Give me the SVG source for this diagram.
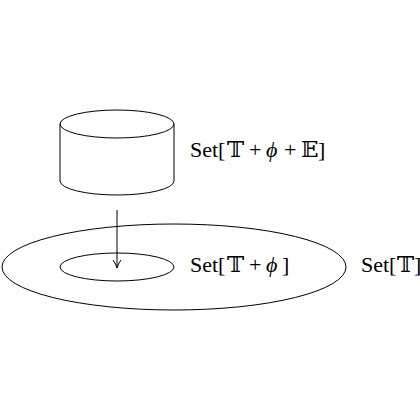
<svg xmlns="http://www.w3.org/2000/svg" width="420" height="420" viewBox="0 0 420 420">
<style>
.s{fill:none;stroke:#000;stroke-width:1}
.t{font-family:"Liberation Serif","DejaVu Serif",serif;font-size:22px;fill:#000}
.i{font-style:italic}
.d{font-size:23px}
</style>
<defs>
<marker id="ah" viewBox="0 0 10 10" refX="9" refY="5" markerWidth="10" markerHeight="10" markerUnits="userSpaceOnUse" orient="auto">
<path d="M1,1 Q5,4 9,5 Q5,6 1,9" fill="none" stroke="#000" stroke-width="1"/>
</marker>
</defs>
<rect width="420" height="420" fill="#fff"/>
<g id="outer">
<ellipse class="s" cx="174" cy="267" rx="172" ry="43"/>
<text class="t" y="272"><tspan x="361">Set[</tspan><tspan x="397" class="d">𝕋</tspan><tspan x="414">]</tspan></text>
</g>
<g id="inner">
<ellipse class="s" cx="117" cy="267" rx="57" ry="14"/>
<text class="t" y="272"><tspan x="190">Set[</tspan><tspan x="227" class="d">𝕋</tspan><tspan x="249">+</tspan><tspan x="266" class="i">ϕ</tspan><tspan x="282">]</tspan></text>
</g>
<g id="cylinder">
<ellipse class="s" cx="117" cy="124" rx="57" ry="14"/>
<path class="s" d="M60,124 V181 A57,14 0 0 0 174,181 V124"/>
<text class="t" y="157"><tspan x="190">Set[</tspan><tspan x="227" class="d">𝕋</tspan><tspan x="249">+</tspan><tspan x="266" class="i">ϕ</tspan><tspan x="284">+</tspan><tspan x="301" class="d">𝔼</tspan><tspan x="318">]</tspan></text>
</g>
<g id="connectors">
<line class="s" x1="117" y1="210" x2="117" y2="268" marker-end="url(#ah)"/>
</g>
</svg>
